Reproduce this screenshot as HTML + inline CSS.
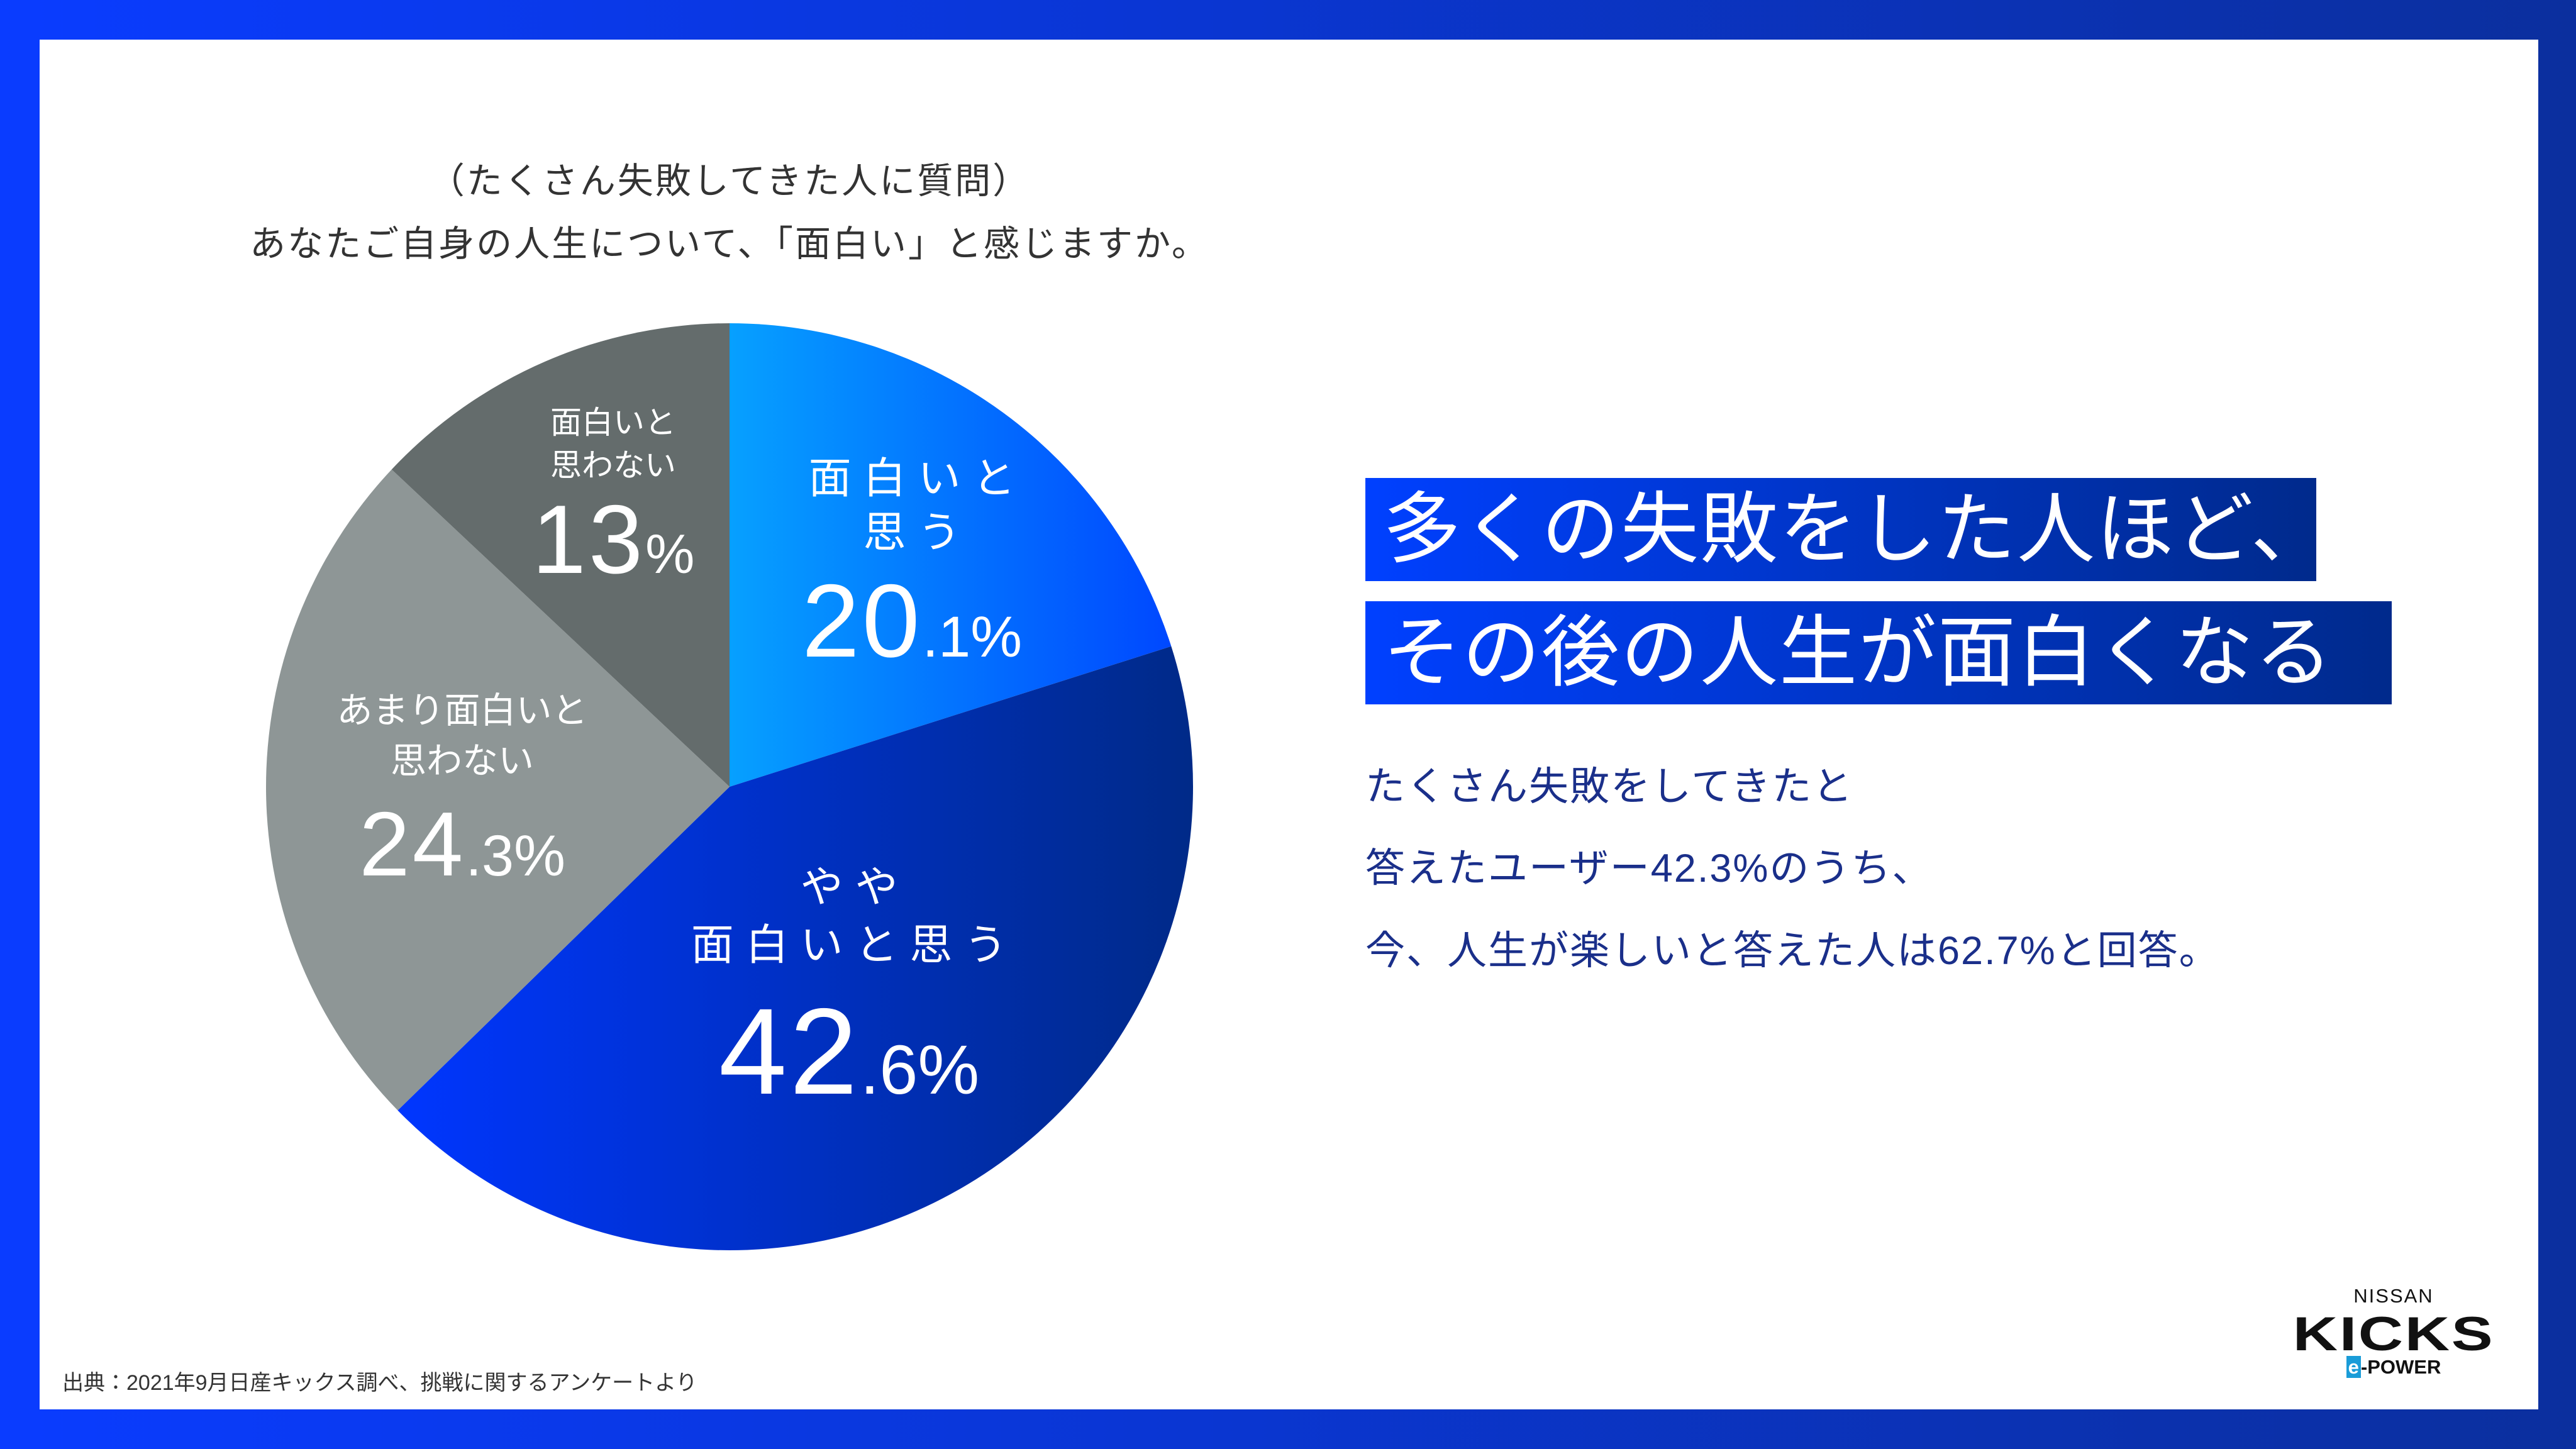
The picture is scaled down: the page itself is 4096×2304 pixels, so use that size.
<!DOCTYPE html>
<html><head><meta charset="utf-8"><style>
html,body{margin:0;padding:0}
body{width:4096px;height:2304px;position:relative;overflow:hidden;background:linear-gradient(90deg,#0a3cff,#0b2f9e);font-family:"Liberation Sans","Noto Sans CJK JP",sans-serif}
#inner{position:absolute;left:63px;top:63px;width:3973px;height:2178px;background:#fff}
.t{position:absolute;white-space:nowrap}
.hl{position:absolute;left:2171px;height:164px;background:linear-gradient(90deg,#0040ff,#002a8c);color:#fff;font-size:124px;line-height:164px;padding-left:28px;box-sizing:border-box;letter-spacing:2px;white-space:nowrap;overflow:visible}
.body{position:absolute;left:2171px;font-size:63px;color:#1a2f8a;letter-spacing:2px}
</style></head><body>
<div id="inner"></div>
<div class="t" style="left:0;width:2320px;text-align:center;top:238px;font-size:57px;line-height:100px;color:#333;letter-spacing:3px">（たくさん失敗してきた人に質問）<br>あなたご自身の人生について、「面白い」と感じますか。</div>
<svg id="pie" width="4096" height="2304" style="position:absolute;left:0;top:0">
<defs>
<linearGradient id="g0" x1="0" x2="1" y1="0" y2="0"><stop offset="0" stop-color="#06a0ff"/><stop offset="1" stop-color="#0048ff"/></linearGradient>
<linearGradient id="g1" x1="0" x2="1" y1="0" y2="0"><stop offset="0" stop-color="#0036ff"/><stop offset="1" stop-color="#002a88"/></linearGradient>
</defs></svg>
<div class="hl" style="top:760px;width:1512px">多くの失敗をした人ほど、</div>
<div class="hl" style="top:956px;width:1632px">その後の人生が面白くなる</div>
<div class="body t" style="top:1200px">たくさん失敗をしてきたと</div>
<div class="body t" style="top:1330px">答えたユーザー42.3%のうち、</div>
<div class="body t" style="top:1461px">今、人生が楽しいと答えた人は62.7%と回答。</div>
<div class="t" style="left:99px;top:2171px;font-size:34px;color:#333">出典：2021年9月日産キックス調べ、挑戦に関するアンケートより</div>
<div class="t" style="left:3706px;width:200px;text-align:center;top:2043px;font-size:31px;color:#111;letter-spacing:2px">NISSAN</div>
<div class="t" style="left:3606px;width:400px;text-align:center;top:2078px;font-size:76px;font-weight:bold;color:#111;transform:scaleX(1.3);letter-spacing:2px">KICKS</div>
<div class="t" style="left:3706px;width:200px;text-align:center;top:2156px;font-size:31px;font-weight:bold;color:#111"><span style="color:#fff;background:#1a9cd8;padding:0 3px">e</span>-POWER</div>
<script>
const categories=["面白いと思う","やや面白いと思う","あまり面白いと思わない","面白いと思わない"];
const values=[20.1,42.6,24.3,13];
const valueLabels=["20.1%","42.6%","24.3%","13%"];
const fills=["url(#g0)","url(#g1)","#8e9696","#646c6c"];
const cx=1160,cy=1251,r=737;
const svg=document.getElementById('pie');
const total=values.reduce((a,b)=>a+b,0);
function pt(a,rr){return [cx+rr*Math.sin(a),cy-rr*Math.cos(a)];}
let acc=0;
values.forEach((v,i)=>{
  const a0=acc/total*2*Math.PI;acc+=v;const a1=acc/total*2*Math.PI;
  const p0=pt(a0,r),p1=pt(a1,r);
  const p=document.createElementNS('http://www.w3.org/2000/svg','path');
  p.setAttribute('d',`M${cx},${cy}L${p0[0]},${p0[1]}A${r},${r} 0 ${a1-a0>Math.PI?1:0} 1 ${p1[0]},${p1[1]}Z`);
  p.setAttribute('fill',fills[i]);
  
  
  svg.appendChild(p);
});
const lab=[
 {lines:["面 白 い と","思 う"],fs:68,lh:86,x:1450,y:718,big:165,sm:92,ny:905},
 {lines:["や や","面 白 い と 思 う"],fs:68,lh:92,x:1350,y:1365,big:195,sm:110,ny:1575},
 {lines:["あまり面白いと","思わない"],fs:57,lh:80,x:735,y:1090,big:145,sm:92,ny:1270},
 {lines:["面白いと","思わない"],fs:50,lh:68,x:975,y:638,big:155,sm:88,ny:780}
];
lab.forEach((L,i)=>{
  const d=document.createElement('div');
  
  
  d.className='t';
  d.style.cssText=`left:${L.x-400}px;width:800px;text-align:center;top:${L.y}px;font-size:${L.fs}px;line-height:${L.lh}px;color:#fff`;
  d.innerHTML=L.lines.join('<br>');
  document.body.appendChild(d);
  const n=document.createElement('div');
  
  
  n.className='t';
  const s=valueLabels[i];const m=s.match(/^(\d+)(.*)$/);
  n.style.cssText=`left:${L.x-400}px;width:800px;text-align:center;top:${L.ny}px;font-size:${L.big}px;line-height:1;color:#fff;letter-spacing:4px`;
  n.innerHTML=m[1]+`<span style="font-size:${L.sm}px;letter-spacing:0">${m[2]}</span>`;
  document.body.appendChild(n);
});
</script>
</body></html>
